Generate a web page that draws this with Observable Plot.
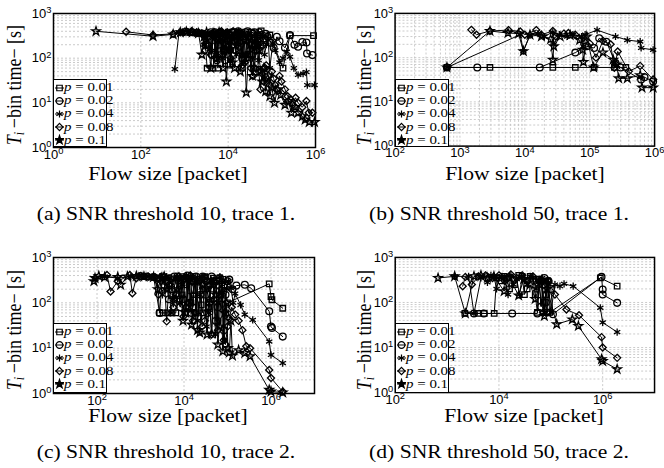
<!DOCTYPE html>
<html><head><meta charset="utf-8">
<script src="https://cdn.jsdelivr.net/npm/d3@7"></script>
<script src="https://cdn.jsdelivr.net/npm/@observablehq/plot@0.6"></script>
<style>
body{margin:0;background:#fff;}
#wrap{position:relative;width:664px;height:468px;overflow:hidden;background:#fff;font-family:"Liberation Serif","Times New Roman",serif;color:#000;}
.pl{position:absolute;}
.lab{position:absolute;white-space:nowrap;text-align:center;font-size:18px;line-height:20px;height:20px;}
.legend{position:absolute;background:#fff;border:1.5px solid #000;box-sizing:border-box;font-size:11.5px;padding-left:1px;}
.lrow{display:flex;align-items:center;height:13.2px;line-height:13px;white-space:nowrap;}
.lrow svg{flex:none;}
.lrow span{display:inline-block;transform:scaleX(1.3);transform-origin:0 50%;}
</style></head><body><div id="wrap"></div>
<script>
// ---------- data ----------
const seriesLabels = ["0.01", "0.02", "0.04", "0.08", "0.1"];
const captions = ["(a) SNR threshold 10, trace 1.", "(b) SNR threshold 50, trace 1.",
                  "(c) SNR threshold 10, trace 2.", "(d) SNR threshold 50, trace 2."];
const xTicksA = [1, 1e2, 1e4, 1e6];
const xTicksB = [1e2, 1e3, 1e4, 1e5, 1e6];
const xTicksC = [1e2, 1e4, 1e6];
const xTicksD = [1e2, 1e4, 1e6];
const yTicks = [1, 10, 100, 1000];

// panel (a): SNR 10, trace 1
const a_p001 = [[1400,380],[1800,370],[2300,360],[2900,330],[3300,60],[4500,60],[5300,340],[5800,60],[6500,350],[7000,120],[7500,300],[8000,150],[9000,330],[10000,200],[11000,70],[12200,380],[13000,250],[14000,380],[16000,250],[18500,350],[20000,60],[22000,300],[24000,350],[28000,120],[30000,300],[34000,380],[38000,60],[42000,250],[47000,330],[52000,150],[57000,410],[90000,330],[180000,60],[260000,320],[900000,320]];
const a_p002 = [[1100,390],[1500,380],[2000,370],[2700,350],[3050,200],[3500,300],[4000,380],[4200,120],[4600,330],[5000,380],[5500,90],[6000,200],[6500,380],[7200,360],[8000,150],[8500,90],[9200,330],[10000,350],[11000,150],[12500,380],[13500,250],[15000,150],[17000,400],[19000,360],[21000,100],[23000,280],[25000,380],[28000,400],[31000,120],[34000,200],[37000,350],[40000,380],[43000,150],[47000,300],[51000,380],[55000,330],[60000,200],[65000,275],[72000,350],[80000,300],[95000,220],[110000,170],[130000,300],[150000,240],[200000,170],[260000,330],[330000,200],[400000,180],[500000,230],[620000,225],[640000,127],[850000,117]];
const a_p004 = [[600,57],[750,380],[900,390],[1200,380],[1700,370],[2400,360],[2800,200],[3200,330],[3800,160],[4200,350],[4600,380],[5000,150],[5500,110],[6000,300],[6600,330],[7300,100],[8000,250],[8700,380],[9500,380],[10500,150],[11500,90],[12500,300],[14000,330],[15500,120],[17000,200],[19000,350],[21000,380],[23000,80],[26000,120],[29000,330],[32000,350],[36000,100],[40000,250],[45000,330],[50000,90],[55000,200],[62000,300],[68000,120],[75000,200],[82000,280],[90000,60],[105000,220],[120000,150],[150000,80],[180000,100],[220000,140],[260000,107],[320000,60],[400000,42],[520000,45],[620000,49],[650000,25],[950000,25]];
const a_p008 = [[46,390],[190,330],[550,350],[800,380],[1000,390],[1450,400],[1900,380],[2500,360],[3000,150],[3400,300],[4000,120],[4400,330],[4800,380],[5300,100],[5800,250],[6400,380],[7000,400],[7700,120],[8500,150],[9500,380],[10500,350],[11500,100],[13000,400],[14500,150],[16000,200],[17500,380],[19000,330],[21500,70],[24000,80],[27000,330],[30000,300],[33000,60],[37000,40],[41000,200],[45000,150],[50000,50],[55000,20],[60000,45],[65000,30],[70000,60],[74000,69],[82000,40],[90000,25],[100000,50],[110000,35],[120000,25],[130000,20],[150000,40],[166000,30],[200000,20],[230000,14],[270000,12],[300000,9],[350000,13],[400000,10],[500000,8],[620000,11],[700000,6],[850000,6]];
const a_p01 = [[9.4,400],[190,310],[550,340],[800,380],[1100,390],[1500,380],[2100,360],[2500,120],[2800,300],[3200,380],[3600,200],[4000,60],[4500,360],[5000,300],[5500,100],[6200,380],[6800,300],[7700,60],[8300,200],[9100,30],[10000,150],[11000,250],[12500,80],[14000,60],[15500,300],[17000,350],[19000,50],[21000,120],[23500,250],[26000,17],[29000,100],[32000,200],[36000,40],[40000,60],[45000,220],[50000,150],[55000,50],[60000,30],[66000,60],[72000,18],[80000,35],[90000,14],[100000,22],[115000,10],[135000,20],[160000,15],[200000,9],[240000,11],[280000,6],[340000,8],[400000,6],[500000,5],[580000,4.2],[720000,3.7],[950000,3.7]];

// panel (b): SNR 50, trace 1
const b_p001 = [[630,60],[2900,60],[27000,60],[60000,60],[117000,60],[240000,60],[360000,60]];
const b_p002 = [[630,60],[1850,60],[17000,60],[60000,130],[90000,180],[117000,165],[140000,275],[180000,230],[250000,76],[300000,60],[620000,32],[700000,36],[950000,29]];
const b_p004 = [[630,60],[8500,330],[9500,140],[12000,320],[16000,350],[20000,300],[27000,380],[28000,200],[34000,330],[45000,300],[55000,330],[75000,300],[80000,180],[85000,330],[130000,420],[250000,300],[380000,250],[600000,230],[620000,165],[950000,150]];
const b_p008 = [[1500,425],[1800,330],[2900,400],[5600,420],[8500,390],[10000,330],[15000,420],[18000,330],[27000,400],[30000,300],[40000,350],[47000,360],[60000,330],[80000,280],[100000,210],[125000,100],[160000,240],[210000,200],[240000,59],[270000,138],[400000,49],[600000,65],[950000,32]];
const b_p01 = [[630,60],[2900,400],[5500,360],[8000,350],[9500,140],[12000,330],[18000,300],[25000,260],[27000,89],[28000,180],[35000,300],[50000,320],[70000,250],[78000,150],[80000,80],[90000,300],[115000,60],[160000,130],[230000,90],[260000,70],[280000,34],[380000,34],[600000,40],[640000,21],[950000,21]];

// panel (c): SNR 10, trace 2
const c_p001 = [[1200,380],[1800,370],[2400,350],[2750,60],[3300,60],[4200,60],[5300,60],[6500,60],[7000,350],[7500,300],[8200,120],[9000,150],[9700,380],[10500,60],[11500,250],[13000,350],[14500,100],[16000,80],[17500,380],[19000,60],[21000,300],[23000,330],[25000,90],[27000,60],[30000,380],[33000,300],[37000,80],[42000,200],[47000,350],[55000,320],[60000,40],[65000,300],[70000,150],[78000,330],[85000,250],[92000,60],[100000,100],[910000,263],[1000000,138],[1050000,117],[1860000,76]];
const c_p002 = [[1000,390],[1400,380],[2000,370],[2750,60],[3200,380],[3800,300],[4500,120],[5200,200],[6000,380],[7000,380],[8200,80],[9500,120],[10800,350],[12000,400],[13500,100],[15000,60],[17000,300],[19000,380],[21500,50],[24000,150],[27000,380],[30000,350],[34000,60],[38000,100],[43000,380],[48000,300],[54000,40],[60000,80],[67000,350],[75000,280],[82000,25],[90000,150],[100000,300],[110000,325],[130000,200],[160000,240],[250000,250],[350000,210],[910000,65],[1000000,30],[1050000,28],[1860000,18]];
const c_p004 = [[90,330],[150,380],[300,350],[600,380],[900,390],[1300,380],[2000,370],[2800,380],[3200,150],[3600,200],[4000,380],[4500,350],[5000,60],[5600,120],[6300,330],[7000,380],[8000,100],[9000,250],[10200,380],[11500,400],[12700,70],[14000,100],[16000,380],[18000,350],[20500,40],[23000,150],[26000,380],[29000,380],[33000,30],[37000,60],[42000,300],[47000,300],[53000,20],[60000,100],[67000,380],[75000,280],[85000,15],[95000,200],[105000,300],[120000,210],[135000,100],[150000,160],[200000,90],[250000,55],[380000,42],[910000,14],[1000000,7.1],[1860000,4.7]];
const c_p008 = [[170,410],[205,178],[300,300],[570,410],[650,163],[800,350],[1000,390],[1500,380],[2200,360],[2600,150],[3000,300],[3500,380],[4000,39],[4500,250],[5000,350],[5700,80],[6500,150],[7500,380],[8500,330],[9700,50],[11000,80],[12500,350],[14000,400],[16000,40],[18000,60],[20500,330],[23000,300],[26000,30],[30000,40],[34000,300],[38000,250],[43000,20],[48000,120],[54000,280],[60000,25],[67000,150],[75000,150],[82000,15],[90000,12],[100000,30],[110000,45],[125000,80],[150000,55],[180000,40],[220000,25],[270000,11],[330000,10],[910000,3.3],[1000000,2.2],[1860000,1.1]];
const c_p01 = [[85,300],[90,350],[110,390],[150,370],[300,370],[350,250],[500,380],[800,390],[1200,380],[2000,370],[2500,200],[3000,350],[3500,380],[4200,200],[5000,300],[6000,117],[7000,200],[8000,350],[9500,40],[11000,60],[13000,300],[15000,33],[16500,150],[18000,300],[20500,25],[23000,22],[26500,250],[30000,200],[34000,20],[38000,120],[43000,21],[48000,250],[55000,150],[60000,12],[65000,30],[72000,200],[78000,8.5],[86000,60],[95000,100],[102000,10],[110000,8],[120000,40],[130000,6.8],[180000,9],[250000,7.8],[330000,6.6],[910000,1.2],[1000000,1.1],[1860000,1.05]];

// panel (d): SNR 50, trace 2
const d_p001 = [[2200,57],[4000,57],[5200,57],[8100,57],[9000,350],[11000,300],[12500,380],[14000,350],[16000,200],[20000,250],[24000,400],[28000,380],[31000,150],[35000,200],[40000,380],[45000,330],[50000,150],[55000,60],[60000,330],[65000,300],[72000,100],[80000,150],[87000,300],[95000,60],[900000,350],[1900000,230]];
const d_p002 = [[3300,57],[5100,57],[18000,57],[55000,57],[60000,300],[65000,80],[70000,250],[75000,350],[80000,100],[85000,60],[90000,300],[100000,200],[110000,55],[950000,370],[1000000,195],[1000000,150],[1900000,98]];
const d_p004 = [[1400,380],[2600,380],[3300,57],[4500,350],[6000,280],[7000,400],[8000,380],[9000,200],[10000,350],[11500,380],[13000,300],[15000,150],[17000,400],[19000,250],[22000,330],[25000,150],[28000,380],[31000,300],[35000,250],[40000,380],[45000,350],[52000,200],[60000,300],[68000,350],[75000,60],[82000,300],[90000,280],[100000,60],[120000,250],[150000,230],[180000,260],[270000,230],[900000,76],[1000000,36],[1900000,22]];
const d_p008 = [[2000,230],[2250,370],[3000,250],[4000,380],[5500,400],[7500,350],[10000,400],[13000,300],[17000,420],[22000,350],[28000,400],[36000,300],[45000,380],[58000,250],[72000,60],[90000,300],[120000,150],[200000,70],[350000,52],[950000,17],[1000000,10],[1900000,5.9]];
const d_p01 = [[670,350],[1400,380],[2250,57],[3300,380],[4500,400],[6000,350],[8000,380],[12600,178],[16000,350],[24000,143],[30000,330],[40000,250],[50000,120],[65000,300],[75000,50],[85000,200],[130000,33],[260000,42],[340000,30],[950000,5.5],[1000000,5],[1900000,3.3]];

// ---------- layout ----------
const symbolNames = ["square2", "circle", "asterisk", "diamond2", "star"];
const symbolRadius = [3.5, 3.4, 3.4, 3.2, 2.7];
const d3Symbols = [d3.symbolSquare2, d3.symbolCircle, d3.symbolAsterisk, d3.symbolDiamond2, d3.symbolStar];

const panels = [
  {frame:[53,13,315,147], xDomain:[1,1e6], xTicks:xTicksA, minorX:false, series:[a_p001,a_p002,a_p004,a_p008,a_p01], caption:captions[0], ylab:[14,85], xlab:[168,174], cap:[166,214], legend:[53,79,54,68]},
  {frame:[395,13,657,147], xDomain:[1e2,1e6], xTicks:xTicksB, minorX:true, series:[b_p001,b_p002,b_p004,b_p008,b_p01], caption:captions[1], ylab:[364,85], xlab:[525,174], cap:[499,214], legend:[395,79,54,68]},
  {frame:[53,257,314,393], xDomain:[10,1e7], xTicks:xTicksC, minorX:false, series:[c_p001,c_p002,c_p004,c_p008,c_p01], caption:captions[2], ylab:[14,330], xlab:[168,416], cap:[166,452], legend:[53,323,54,70]},
  {frame:[395,257,656,393], xDomain:[1e2,1e7], xTicks:xTicksD, minorX:false, series:[d_p001,d_p002,d_p004,d_p008,d_p01], caption:captions[3], ylab:[364,330], xlab:[524,416], cap:[499,452], legend:[395,323,54,70]}
];

const wrap = document.getElementById("wrap");

function minorValues(lo, hi) {
  const out = [];
  for (let k = Math.round(Math.log10(lo)); k < Math.round(Math.log10(hi)); k++)
    for (let m = 1; m < 10; m++) out.push(m * Math.pow(10, k));
  out.push(hi);
  return out;
}

function addSup(svg) {
  d3.select(svg).selectAll('g[aria-label="x-axis tick label"] text, g[aria-label="y-axis tick label"] text').each(function() {
    const t = d3.select(this);
    const e = t.text();
    t.text(null).attr("font-size", 13);
    t.append("tspan").text("10");
    t.append("tspan").attr("dy", "-0.5em").attr("font-size", "0.72em").text(e);
  });
}

panels.forEach(p => {
  const [l, t, r, b] = p.frame;
  const ml = 45, mr = 10, mt = 10, mb = 30;
  const gridX = p.minorX ? minorValues(p.xDomain[0], p.xDomain[1]) : p.xTicks;
  const gridY = minorValues(1, 1000);
  const marks = [
    Plot.ruleY(gridY, {stroke: "#bdbdbd", strokeWidth: 0.8, strokeDasharray: "2,2"}),
    Plot.ruleX(gridX, {stroke: "#bdbdbd", strokeWidth: 0.8, strokeDasharray: "2,2"})
  ];
  p.series.forEach((s, i) => {
    marks.push(Plot.line(s, {x: d => d[0], y: d => d[1], stroke: "black", strokeWidth: 1}));
  });
  p.series.forEach((s, i) => {
    marks.push(Plot.dot(s, {x: d => d[0], y: d => d[1], symbol: symbolNames[i], r: symbolRadius[i], stroke: "black", strokeWidth: 1.3, fill: "none"}));
  });
  marks.push(Plot.frame({stroke: "black", strokeWidth: 1.5}));
  const svg = Plot.plot({
    width: (r - l) + ml + mr, height: (b - t) + mt + mb,
    marginLeft: ml, marginRight: mr, marginTop: mt, marginBottom: mb,
    style: {background: "transparent", fontFamily: "'Liberation Sans', Arial, sans-serif", fontSize: "13px", color: "black", overflow: "visible"},
    x: {type: "log", domain: p.xDomain, ticks: p.xTicks, tickFormat: d => String(Math.round(Math.log10(d))), tickSize: 0, tickPadding: 2, label: null},
    y: {type: "log", domain: [1, 1000], ticks: yTicks, tickFormat: d => String(Math.round(Math.log10(d))), tickSize: 0, tickPadding: 2, label: null},
    marks
  });
  addSup(svg);
  const holder = document.createElement("div");
  holder.className = "pl";
  holder.style.left = (l - ml) + "px";
  holder.style.top = (t - mt) + "px";
  holder.appendChild(svg);
  wrap.appendChild(holder);

  // y label
  const yl = document.createElement("div");
  yl.className = "lab";
  yl.style.width = "200px";
  yl.style.left = (p.ylab[0] - 100) + "px";
  yl.style.top = (p.ylab[1] - 10) + "px";
  yl.style.transform = "scaleX(1.15) rotate(-90deg)";
  yl.innerHTML = '<i>T</i><sub style="font-size:12px;font-style:italic;vertical-align:-3px">i</sub>&thinsp;&minus;bin time&minus; [s]';
  wrap.appendChild(yl);

  // x label
  const xl = document.createElement("div");
  xl.className = "lab";
  xl.style.width = "240px";
  xl.style.left = (p.xlab[0] - 120) + "px";
  xl.style.top = (p.xlab[1] - 10) + "px";
  xl.style.transform = "scaleX(1.2)";
  xl.textContent = "Flow size [packet]";
  wrap.appendChild(xl);

  // caption
  const cp = document.createElement("div");
  cp.className = "lab";
  cp.style.width = "320px";
  cp.style.left = (p.cap[0] - 160) + "px";
  cp.style.top = (p.cap[1] - 10) + "px";
  cp.style.transform = "scaleX(1.2)";
  cp.textContent = p.caption;
  wrap.appendChild(cp);

  // legend
  const [lx, ly, lw, lh] = p.legend;
  const lg = d3.select(wrap).append("div").attr("class", "legend")
    .style("left", lx + "px").style("top", ly + "px").style("width", lw + "px").style("height", lh + "px")
    .style("padding-top", "1px");
  seriesLabels.forEach((lab, i) => {
    const row = lg.append("div").attr("class", "lrow");
    const s = row.append("svg").attr("width", 9).attr("height", 12);
    s.append("line").attr("x1", 0).attr("x2", 9).attr("y1", 6).attr("y2", 6).attr("stroke", "black").attr("stroke-width", 1);
    s.append("path").attr("transform", "translate(4.5,6)")
      .attr("d", d3.symbol(d3Symbols[i], Math.PI * symbolRadius[i] * symbolRadius[i])())
      .attr("fill", i === 4 ? "black" : "none").attr("stroke", "black").attr("stroke-width", 1.2);
    row.append("span").html(`<i>p</i> = ${lab}`);
  });
});
</script>
</body></html>
